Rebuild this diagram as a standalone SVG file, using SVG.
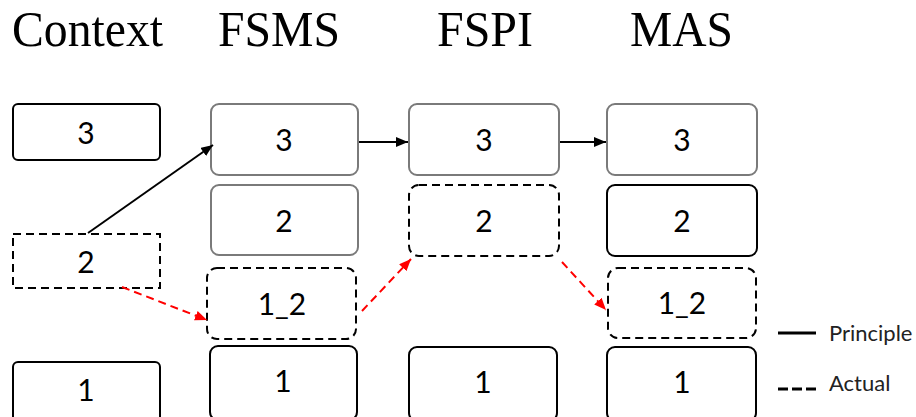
<svg xmlns="http://www.w3.org/2000/svg" width="916" height="417" viewBox="0 0 916 417">
<style>
.hdr{font-family:"Liberation Serif","Times New Roman",serif;font-size:50px;fill:#000}
.lbl{font-family:Lato,"Open Sans",sans-serif;font-size:30px;fill:#000;text-anchor:middle;dominant-baseline:central}
.leg{font-family:Lato,"Open Sans",sans-serif;font-size:22px;fill:#222}
.blk{fill:#fff;stroke:#000;stroke-width:2}
.gry{fill:#fff;stroke:#7a7a7a;stroke-width:2}
.dsh{fill:#fff;stroke:#000;stroke-width:2;stroke-dasharray:8 5}
.ar{stroke:#000;stroke-width:2;fill:none}
.rd{stroke:#f00;stroke-width:2;fill:none;stroke-dasharray:8 5}
</style>
<defs>
<marker id="ab" viewBox="0 0 12 10" refX="12" refY="5" markerWidth="12" markerHeight="10" orient="auto" markerUnits="userSpaceOnUse"><path d="M0,0 L12,5 L0,10 z" fill="#000"/></marker>
<marker id="ar" viewBox="0 0 12 10" refX="12" refY="5" markerWidth="12" markerHeight="10" orient="auto" markerUnits="userSpaceOnUse"><path d="M0,0 L12,5 L0,10 z" fill="#f00"/></marker>
</defs>
<g id="headers">
<text class="hdr" x="12" y="46" textLength="151" lengthAdjust="spacingAndGlyphs">Context</text>
<text class="hdr" x="218" y="46" textLength="122" lengthAdjust="spacingAndGlyphs">FSMS</text>
<text class="hdr" x="437" y="46" textLength="96" lengthAdjust="spacingAndGlyphs">FSPI</text>
<text class="hdr" x="630" y="46" textLength="103" lengthAdjust="spacingAndGlyphs">MAS</text>
</g>
<g id="ctx3"><rect class="blk" x="13" y="104" width="147" height="56" rx="5"/><text class="lbl" x="86" y="132">3</text></g>
<g id="ctx2"><rect class="dsh" x="13" y="234" width="147" height="54"/><text class="lbl" x="86" y="261">2</text></g>
<g id="ctx1"><rect class="blk" x="13" y="362" width="147" height="60" rx="5"/><text class="lbl" x="86" y="389">1</text></g>
<g id="fsms3"><rect class="gry" x="211" y="104" width="147" height="71" rx="8"/><text class="lbl" x="284" y="139">3</text></g>
<g id="fsms2"><rect class="gry" x="211" y="185" width="147" height="70" rx="8"/><text class="lbl" x="284" y="220">2</text></g>
<g id="fsms12"><rect class="dsh" x="207" y="268" width="149" height="71" rx="10"/><text class="lbl" x="282" y="303">1_2</text></g>
<g id="fsms1"><rect class="blk" x="210" y="346" width="147" height="74" rx="8"/><text class="lbl" x="283" y="380">1</text></g>
<g id="fspi3"><rect class="gry" x="409" y="104" width="150" height="71" rx="8"/><text class="lbl" x="484" y="139">3</text></g>
<g id="fspi2"><rect class="dsh" x="409" y="185" width="150" height="71" rx="10"/><text class="lbl" x="484" y="220">2</text></g>
<g id="fspi1"><rect class="blk" x="409" y="347" width="148" height="74" rx="8"/><text class="lbl" x="483" y="381">1</text></g>
<g id="mas3"><rect class="gry" x="607" y="104" width="150" height="71" rx="8"/><text class="lbl" x="682" y="139">3</text></g>
<g id="mas2"><rect class="blk" x="607" y="185" width="150" height="71" rx="8"/><text class="lbl" x="682" y="220">2</text></g>
<g id="mas12"><rect class="dsh" x="608" y="268" width="148" height="70" rx="10"/><text class="lbl" x="682" y="302">1_2</text></g>
<g id="mas1"><rect class="blk" x="607" y="347" width="149" height="74" rx="8"/><text class="lbl" x="682" y="381">1</text></g>
<g id="connectors">
<line class="ar" x1="88" y1="233" x2="213" y2="145" marker-end="url(#ab)"/>
<line class="ar" x1="359" y1="142" x2="408" y2="142" marker-end="url(#ab)"/>
<line class="ar" x1="560" y1="142" x2="606" y2="142" marker-end="url(#ab)"/>
<line class="rd" x1="122" y1="287" x2="207" y2="320" marker-end="url(#ar)"/>
<line class="rd" x1="362" y1="311" x2="411" y2="259" marker-end="url(#ar)"/>
<line class="rd" x1="562" y1="262" x2="606" y2="310" marker-end="url(#ar)"/>
</g>
<g id="legend">
<line x1="778" y1="333" x2="816" y2="333" stroke="#000" stroke-width="3"/>
<text class="leg" x="829" y="341">Principle</text>
<line x1="778" y1="389" x2="816" y2="389" stroke="#000" stroke-width="3" stroke-dasharray="10 4"/>
<text class="leg" x="829" y="391">Actual</text>
</g>
</svg>
